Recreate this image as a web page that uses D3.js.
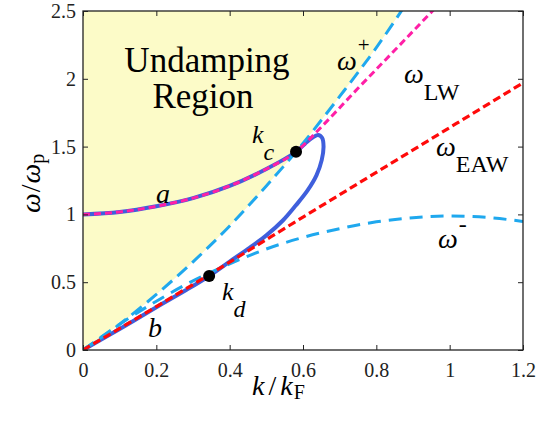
<!DOCTYPE html>
<html>
<head>
<meta charset="utf-8">
<script src="https://cdn.jsdelivr.net/npm/d3@7"></script>
</head>
<body style="margin:0">
<svg id="chart"></svg>
<script>
const w = 536;
const h = 422;
const margin = { top: 11, right: 13, bottom: 72, left: 83 };
const serif = '"Liberation Serif"';

// values: [k/kF, omega/omega_p]
const wPlus = [[0, 0], [0.1, 0.19], [0.2, 0.41], [0.3, 0.65], [0.4, 0.915], [0.5, 1.21],
	[0.581, 1.462], [0.7, 1.87], [0.8, 2.23], [0.9, 2.63]];
const wMinus = [[0, 0], [0.1, 0.19], [0.2, 0.36], [0.3, 0.51], [0.4, 0.635], [0.5, 0.745],
	[0.6, 0.83], [0.7, 0.895], [0.8, 0.945], [0.9, 0.975], [1.0, 0.988], [1.1, 0.978], [1.2, 0.948]];
const wLW = [[0, 1], [0.1, 1.018], [0.2, 1.06], [0.3, 1.12], [0.4, 1.21], [0.5, 1.335],
	[0.581, 1.462], [0.65, 1.645], [0.75, 1.93], [0.85, 2.21], [0.96, 2.52]];
const wEAW = [[0, 0], [0.2, 0.32], [0.4, 0.648], [0.6, 0.98], [0.8, 1.31], [1.0, 1.64], [1.2, 1.97]];
// solid solution branch: a (upper) -> loop -> b (lower), in path order
const solution = [[0, 1], [0.1, 1.018], [0.2, 1.06], [0.3, 1.12], [0.4, 1.21], [0.5, 1.335],
	[0.581, 1.462], [0.605, 1.52], [0.625, 1.565], [0.641, 1.586], [0.652, 1.565], [0.656, 1.5],
	[0.651, 1.4], [0.637, 1.29], [0.612, 1.175], [0.58, 1.065], [0.545, 0.955], [0.5, 0.845],
	[0.45, 0.745], [0.4, 0.652], [0.344, 0.546], [0.28, 0.44], [0.2, 0.315], [0.1, 0.155], [0, 0]];
const keyPoints = [{ name: 'kc', k: 0.581, w: 1.462 }, { name: 'kd', k: 0.344, w: 0.546 }];

const xTicks = [0, 0.2, 0.4, 0.6, 0.8, 1, 1.2];
const xTickLabels = ['0', '0.2', '0.4', '0.6', '0.8', '1', '1.2'];
const yTicks = [0, 0.5, 1, 1.5, 2, 2.5];
const yTickLabels = ['0', '0.5', '1', '1.5', '2', '2.5'];

const svg = d3.select('#chart').attr('width', w).attr('height', h);

const x = d3.scaleLinear().domain([0, 1.2]).range([margin.left, w - margin.right]);
const y = d3.scaleLinear().domain([0, 2.5]).range([h - margin.bottom, margin.top]);

svg.append('clipPath').attr('id', 'plot-clip')
	.append('rect')
	.attr('x', x(0)).attr('y', y(2.5))
	.attr('width', x(1.2) - x(0)).attr('height', y(0) - y(2.5));

const plot = svg.append('g').attr('clip-path', 'url(#plot-clip)');

// undamping region: above omega+
const area = d3.area()
	.x(d => x(d[0]))
	.y0(d => y(d[1]))
	.y1(y(2.5))
	.curve(d3.curveMonotoneX);
plot.append('path').datum(wPlus).attr('d', area).attr('fill', '#fcfbc8');

const line = d3.line().x(d => x(d[0])).y(d => y(d[1]));

plot.append('path').datum(solution)
	.attr('d', line.curve(d3.curveCatmullRom.alpha(0.5)))
	.attr('fill', 'none').attr('stroke', '#3f5fdc').attr('stroke-width', 4);

const lineM = d3.line().x(d => x(d[0])).y(d => y(d[1])).curve(d3.curveMonotoneX);

plot.append('path').datum(wPlus).attr('d', lineM)
	.attr('fill', 'none').attr('stroke', '#1fa8ee').attr('stroke-width', 3)
	.attr('stroke-dasharray', '13,7');
plot.append('path').datum(wMinus).attr('d', lineM)
	.attr('fill', 'none').attr('stroke', '#1fa8ee').attr('stroke-width', 3)
	.attr('stroke-dasharray', '13,8');
plot.append('path').datum(wEAW).attr('d', lineM)
	.attr('fill', 'none').attr('stroke', '#ff0a0a').attr('stroke-width', 3.2)
	.attr('stroke-dasharray', '8,4');
plot.append('path').datum(wLW).attr('d', lineM)
	.attr('fill', 'none').attr('stroke', '#ff1fa6').attr('stroke-width', 3)
	.attr('stroke-dasharray', '7,4');

svg.selectAll('circle.key')
	.data(keyPoints)
	.enter()
	.append('circle')
	.attr('class', 'key')
	.attr('cx', d => x(d.k))
	.attr('cy', d => y(d.w))
	.attr('r', 6)
	.attr('fill', '#000');

// axes, ticks inside on all four sides
function styleAxis(g) {
	g.attr('font-family', serif).attr('font-size', 20);
	g.select('.domain').remove();
	g.selectAll('line').attr('stroke', '#222');
	g.selectAll('text').attr('fill', '#222').attr('font-family', serif).attr('font-size', 20);
}
svg.append('g').attr('transform', `translate(0,${y(0)})`)
	.call(d3.axisBottom(x).tickValues(xTicks).tickFormat((d, i) => xTickLabels[i]).tickSize(-5).tickPadding(13))
	.call(styleAxis);
svg.append('g').attr('transform', `translate(0,${y(2.5)})`)
	.call(d3.axisTop(x).tickValues(xTicks).tickFormat('').tickSize(-5))
	.call(styleAxis);
svg.append('g').attr('transform', `translate(${x(0)},0)`)
	.call(d3.axisLeft(y).tickValues(yTicks).tickFormat((d, i) => yTickLabels[i]).tickSize(-5).tickPadding(7))
	.call(styleAxis);
svg.append('g').attr('transform', `translate(${x(1.2)},0)`)
	.call(d3.axisRight(y).tickValues(yTicks).tickFormat('').tickSize(-5))
	.call(styleAxis);

svg.append('rect')
	.attr('x', x(0)).attr('y', y(2.5))
	.attr('width', x(1.2) - x(0)).attr('height', y(0) - y(2.5))
	.attr('fill', 'none').attr('stroke', '#222').attr('stroke-width', 1.3);

// annotations
function txt(px, py, size) {
	return svg.append('text').attr('x', px).attr('y', py)
		.attr('font-family', serif).attr('font-size', size).attr('fill', '#000');
}
function span(t, s, size, italic) {
	return t.append('tspan').attr('font-family', serif).attr('font-size', size)
		.attr('font-style', italic ? 'italic' : 'normal').text(s);
}

txt(207, 72, 35).attr('text-anchor', 'middle').text('Undamping');
txt(203, 108, 35).attr('text-anchor', 'middle').text('Region');

function label(px, py, main, sub, opts) {
	const t = txt(px, py, opts.size);
	span(t, main, opts.size, true);
	if (sub) {
		span(t, sub, opts.subSize, opts.subItalic).attr('dy', opts.dy).attr('dx', opts.dx || 0);
	}
	return t;
}

label(337, 70, 'ω', '+', { size: 28, subSize: 21, dy: -18, dx: 1 });
label(404, 83, 'ω', 'LW', { size: 28, subSize: 24, dy: 17, dx: 0 });
label(436, 156, 'ω', 'EAW', { size: 28, subSize: 24, dy: 16, dx: 0 });
label(438, 248, 'ω', '-', { size: 28, subSize: 24, dy: -16, dx: 1 });
label(252, 143, 'k', 'c', { size: 26, subSize: 24, dy: 17, dx: 0, subItalic: true });
label(222, 300, 'k', 'd', { size: 26, subSize: 24, dy: 17, dx: 0, subItalic: true });
label(156, 203, 'a', null, { size: 28 });
label(148, 337, 'b', null, { size: 28 });

// axis titles
const xt = txt(252, 395, 28);
span(xt, 'k', 28, true);
span(xt, '/', 28, false).attr('dx', 4);
span(xt, 'k', 28, true).attr('dx', 4);
span(xt, 'F', 20, false).attr('dy', 4).attr('dx', 1);

const yt = txt(0, 0, 28).attr('transform', 'translate(40,213) rotate(-90)');
span(yt, 'ω', 28, true);
span(yt, '/', 28, false).attr('dx', 1);
span(yt, 'ω', 28, true).attr('dx', 1);
span(yt, 'p', 20, false).attr('dy', 4);
</script>
</body>
</html>
